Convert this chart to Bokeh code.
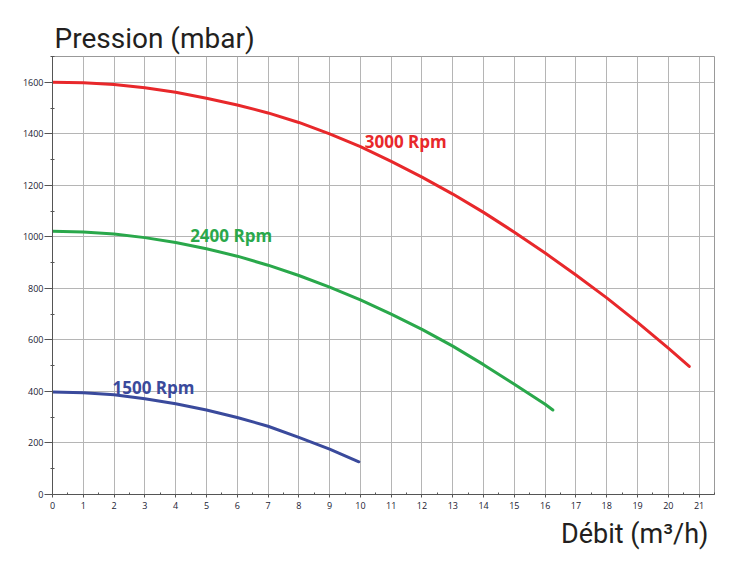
from bokeh.plotting import figure
from bokeh.models import Range1d, FixedTicker, Label, Title
from bokeh.embed import file_html
from bokeh.resources import INLINE

# Data
q_3000 = [0, 1, 2, 3, 4, 5, 6, 7, 8, 9, 10, 11, 12, 13, 14, 15, 16, 17, 18, 19, 20, 20.68]
p_3000 = [1600, 1598, 1591, 1579, 1561, 1538, 1512, 1481, 1444, 1400, 1350, 1293, 1232, 1166,
          1095, 1018, 937, 852, 763, 668, 568, 497]

q_2400 = [0, 1, 2, 3, 4, 5, 6, 7, 8, 9, 10, 11, 12, 13, 14, 15, 16, 16.25]
p_2400 = [1022, 1019, 1011, 997, 978, 954, 925, 890, 850, 805, 755, 700, 641, 576, 504, 428, 350, 328]

q_1500 = [0, 1, 2, 3, 4, 5, 6, 7, 8, 9, 9.95]
p_1500 = [398, 395, 387, 372, 352, 328, 299, 265, 222, 176, 127]

curve_names = ["3000 Rpm", "2400 Rpm", "1500 Rpm"]
curve_colors = ["#e8282b", "#2aa84b", "#3a4a9c"]
label_x = [10.14, 4.47, 1.95]
label_y = [1371, 1004, 415]

x_ticks = list(range(0, 22))
x_minor = [i + 0.5 for i in range(0, 22)]
y_ticks = list(range(0, 1601, 200))
y_minor = list(range(100, 1701, 200))

title_text = "Pression (mbar)"
xlabel_text = "Débit (m³/h)"

p = figure(width=750, height=565, output_backend="svg", toolbar_location=None,
           x_range=Range1d(0, 21.5), y_range=Range1d(0, 1700),
           min_border_left=52, min_border_right=36, min_border_top=56, min_border_bottom=71)

p.title.text = title_text
p.title.text_font = "Roboto"
p.title.text_font_size = "28px"
p.title.text_font_style = "normal"
p.title.text_color = "#231f20"
p.title.align = "left"
p.title.offset = 2
p.title.standoff = 4

for xs, ys, c in zip([q_3000, q_2400, q_1500], [p_3000, p_2400, p_1500], curve_colors):
    p.line(xs, ys, line_color=c, line_width=3, line_join="round", line_cap="round")

for name, c, lx, ly in zip(curve_names, curve_colors, label_x, label_y):
    p.add_layout(Label(x=lx, y=ly, text=name, text_color=c, text_font="Open Sans",
                       text_font_style="bold", text_font_size="17px", text_baseline="middle",
                       text_align="left"))

xt = Title(text=xlabel_text, align="right", text_font="Roboto", text_font_size="27px",
           text_font_style="normal", text_color="#231f20", offset=6, standoff=8)
p.add_layout(xt, "below")

p.xaxis.ticker = FixedTicker(ticks=x_ticks, minor_ticks=x_minor)
p.yaxis.ticker = FixedTicker(ticks=y_ticks, minor_ticks=y_minor)

for ax in (p.xaxis, p.yaxis):
    ax.axis_line_color = "#555555"
    ax.axis_line_width = 1
    ax.major_tick_line_color = "#555555"
    ax.minor_tick_line_color = "#555555"
    ax.major_label_text_font = "Open Sans"
    ax.major_label_text_font_size = "9px"
    ax.major_label_text_color = "#1a1a33"

p.xaxis.major_tick_out = 3
p.xaxis.major_tick_in = 0
p.xaxis.minor_tick_in = 2
p.xaxis.minor_tick_out = 0
p.xaxis.major_label_standoff = 4

p.yaxis.major_tick_out = 8
p.yaxis.major_tick_in = 0
p.yaxis.minor_tick_in = 2
p.yaxis.minor_tick_out = 2
p.yaxis.major_label_standoff = 1

p.xgrid.ticker = FixedTicker(ticks=x_ticks)
p.ygrid.ticker = FixedTicker(ticks=y_ticks)
p.grid.grid_line_color = "#b5b5b5"
p.grid.grid_line_width = 1

p.outline_line_color = "#999999"
p.outline_line_width = 1
p.background_fill_color = "white"
p.border_fill_color = "white"

open("out.html", "w").write(file_html(p, INLINE))
